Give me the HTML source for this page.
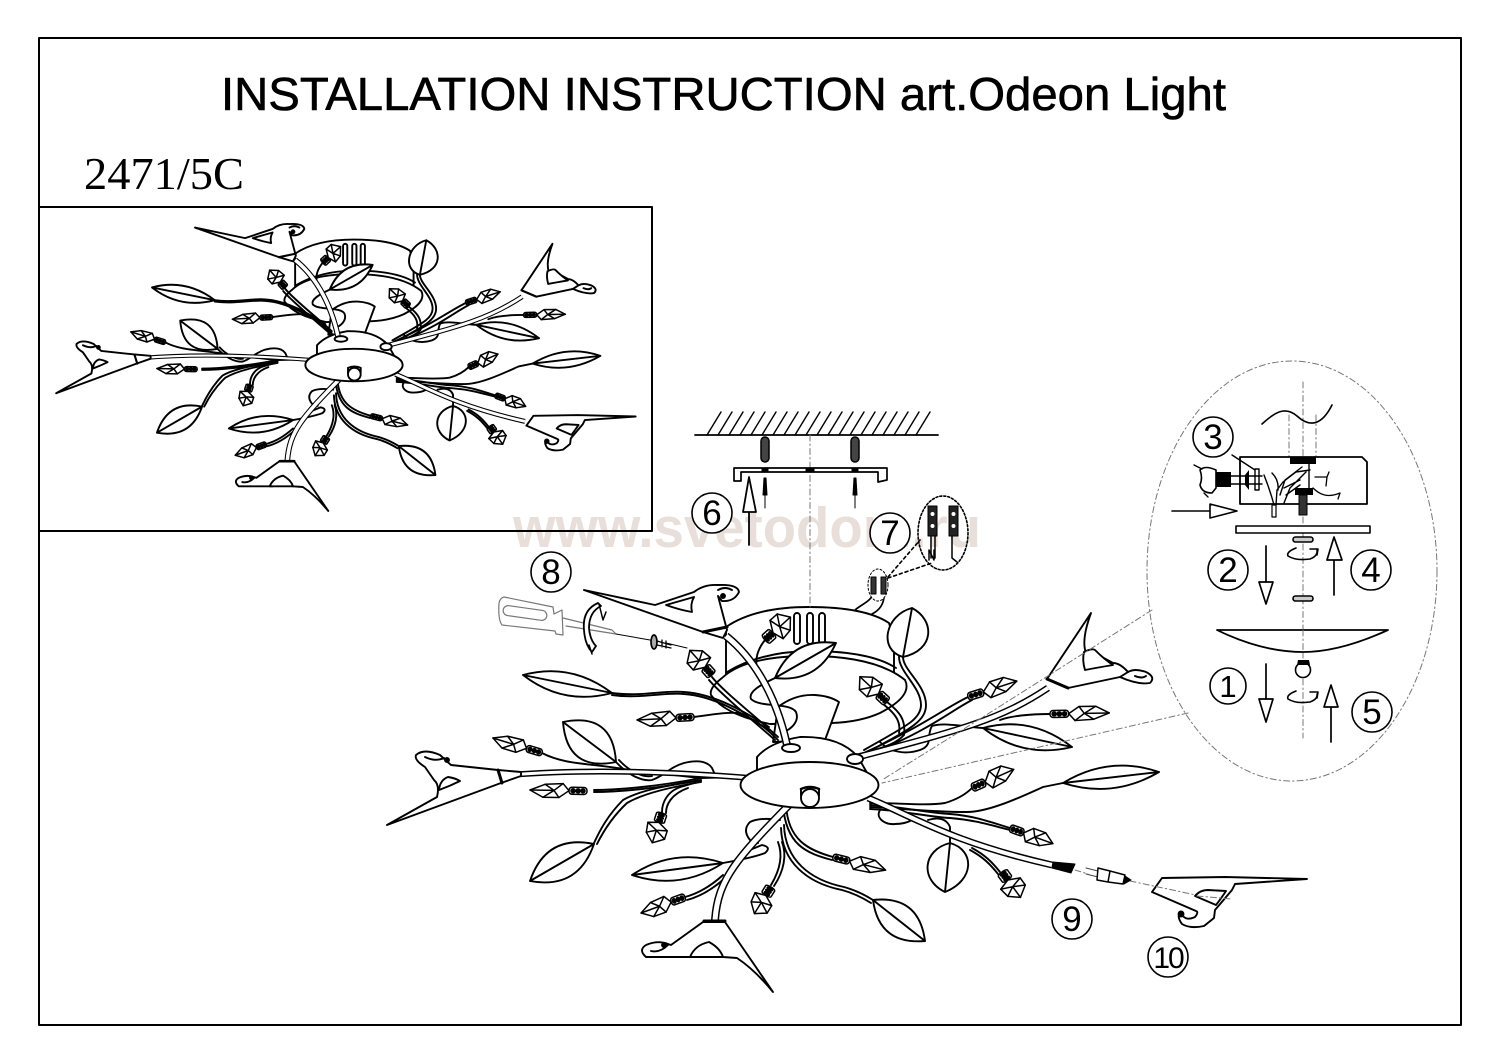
<!DOCTYPE html>
<html><head><meta charset="utf-8"><style>
html,body{margin:0;padding:0;background:#fff}
svg{display:block}
.t{font-family:"Liberation Sans",sans-serif}
.n{font-family:"Liberation Sans",sans-serif;font-size:35px;text-anchor:middle;fill:#000;stroke:none}
.nz{vector-effect:non-scaling-stroke}
.dd{fill:none;stroke:#777;stroke-width:1;stroke-dasharray:6 3 1.5 3}
.g{fill:none;stroke:#555;stroke-width:1.2}
</style></head><body>
<svg width="1500" height="1061" viewBox="0 0 1500 1061" xmlns="http://www.w3.org/2000/svg" fill="none" stroke="#000" stroke-linejoin="round" stroke-linecap="round">
<defs>
<g id="c" stroke-width="1.5">
  <rect class="nz" x="0" y="-3.500" width="18" height="7" rx="3" fill="#fff"/>
  <path class="nz" fill="#fff" d="M18,0 L28,-7 L44,-7 L57,0 L42,6 L24,7 Z"/>
  <path class="nz" d="M33,0 L28,-7 M33,0 L44,-7 M33,0 L42,6 M33,0 L24,7 M33,0 L57,0"/>
  <circle class="nz" cx="4" cy="0" r="2" fill="#000"/><circle class="nz" cx="9" cy="0" r="2" fill="#000"/><circle class="nz" cx="14" cy="0" r="2" fill="#000"/>
</g>
<g id="shade10" fill="#fff">
  <path d="M1152,892 L1162,878 L1225,877 L1307,879 L1235,884 L1232,890 L1215,910 L1214,918 L1204,926 Q1190,929 1182,924 Q1176,916 1181,912 Q1184,922 1195,917 Q1199,912 1196,911 L1152,892 Z"/>
  <path d="M1195,896 Q1200,890 1208,890 L1226,891 Q1220,900 1216,905 Z"/>
  <circle cx="1181" cy="914" r="2.5" fill="#000"/>
</g>
<g id="ch">
  <!-- drum -->
  <path fill="#fff" d="M726,676 V627 Q755,607 809,607 Q865,607 889,623 L894,640 V676 Z"/>
  <path fill="#fff" d="M722,678 Q745,656 809,656 Q875,656 905,680 Q913,696 880,713 Q860,722 832,723 L770,724 Q725,715 711,695 Q709,688 722,678 Z"/>
  <path d="M727,672 Q760,652 809,651 Q870,651 896,668"/>
  <rect x="794" y="613" width="6" height="31" rx="3" fill="#fff"/><rect x="807" y="613" width="6" height="31" rx="3" fill="#fff"/><rect x="819" y="613" width="6" height="31" rx="3" fill="#fff"/>
  <!-- canopy -->
  <path fill="#fff" d="M773,742 L778,707 Q795,694 815,695 Q830,696 839,702 L825,740 Z"/>
  <path fill="#fff" d="M757,782 V757 Q770,742 800,737 Q840,736 858,757 L870,778 Z"/>
  <!-- wires behind -->
  <path d="M612,693 C640,697 665,690 684,692 C715,694 745,712 769,727"/>
  <path d="M612,695 C640,699 665,692 684,694 C715,696 745,715 769,730"/>
  <path d="M712,677 C722,690 755,716 778,737"/><path d="M709,680 C720,693 752,720 775,740"/>
  <path d="M694,717 C710,715 725,712 737,713 C750,716 765,727 778,740"/>
  <path d="M775,678 C760,685 748,692 751,699 C760,708 790,702 796,712 C800,722 790,730 783,732"/>
  <path d="M765,640 C757,650 755,660 757,668"/>
  <path d="M903,657 C903,670 926,685 926,705 C926,722 908,730 866,753" />
  <path d="M899,657 C899,672 921,687 921,705 C921,720 904,727 864,750"/>
  <path d="M887,702 C900,712 906,720 904,735 C895,745 880,748 866,753"/>
  <path d="M883,704 C896,714 901,722 899,733"/>
  <path d="M968,697 C945,708 925,725 866,752"/><path d="M972,700 C949,712 930,730 868,755"/>
  <path d="M1050,714 C1030,714 1010,716 1000,720"/>
  <path d="M983,728 C965,727 945,722 932,726 C926,735 934,745 920,750 C905,755 890,752 880,742"/>
  <!-- arm upper right stem -->
  <path stroke-width="7" stroke-linecap="butt" d="M1048,688 C1000,720 960,730 858,757"/><path stroke="#fff" stroke-width="4" stroke-linecap="butt" d="M1048,688 C1000,720 960,730 858,757"/>
  <!-- shade upper right -->
  <path fill="#fff" d="M1091,613 L1047,679 L1068,688 L1120,677 Q1138,685 1150,683 Q1156,677 1146,672 Q1135,668 1128,672 Q1120,663 1113,663 L1100,656 L1086,653 Q1081,640 1091,613 Z"/>
  <path fill="#fff" d="M1084,652 Q1092,648 1095,650 Q1105,660 1113,665 Q1095,668 1085,670 Q1082,660 1084,652 Z"/>
  <path stroke-width="3" d="M1047,679 L1068,688"/>
  <path d="M1135,676 Q1142,679 1146,676 M1120,677 L1128,672"/>
  <!-- leaf stem and shade upper-left -->
  <path stroke-width="8" stroke-linecap="butt" d="M726,636 C750,655 775,690 787,745"/><path stroke="#fff" stroke-width="5" stroke-linecap="butt" d="M726,636 C750,655 775,690 787,745"/>
  <path fill="#fff" d="M584,590 L655,605 Q670,600 694,592 Q704,584 718,585 Q738,584 739,592 Q734,602 722,601 L718,596 L727,630 L723,638 L703,632 Z"/>
  <path fill="#fff" d="M666,605 Q680,601 694,597 Q690,604 692,612 Q680,610 666,605 Z"/>
  <path stroke-width="3" d="M703,632 L727,627"/>
  <circle cx="723" cy="596" r="2" fill="#000"/>
  <path d="M718,590 Q725,586 732,590"/>
  <!-- left wires -->
  <path d="M542,753 C565,765 590,763 630,770 L700,778"/>
  <path d="M594,790 C620,790 660,786 701,778 L737,777"/>
  <path d="M594,792 C620,792 660,788 701,780"/>
  <path d="M594,843 C600,830 608,815 623,800 C640,790 670,785 701,780"/>
  <path d="M597,844 C603,832 612,817 627,803 C644,793 672,787 701,782"/>
  <path d="M662,812 C662,803 667,790 684,786 L701,781"/>
  <path d="M666,813 C666,805 671,794 688,788"/>
  <path d="M616,762 C625,772 640,782 652,780 C664,776 670,767 684,763 Q705,758 712,768 L716,777"/>
  <path d="M619,760 C628,770 642,778 652,776"/>
  <path stroke-width="6" stroke-linecap="butt" d="M510,775 C570,770 650,770 750,778"/><path stroke="#fff" stroke-width="3" stroke-linecap="butt" d="M510,775 C570,770 650,770 750,778"/>
  <!-- left shade -->
  <path fill="#fff" d="M387,825 L437,797 Q440,785 434,780 L425,767 Q414,760 416,755 Q424,748 440,755 L451,765 L498,770 L521,772 L521,776 L501,783 Z"/>
  <path fill="#fff" d="M439,790 Q450,786 460,781 Q455,778 448,777 Q440,780 439,790 Z"/>
  <path stroke-width="3" d="M498,770 L502,783"/>
  <path d="M425,757 Q435,762 444,758"/>
  <circle cx="447" cy="760" r="2" fill="#000"/>
  <!-- lower right wires -->
  <path d="M870,803 C900,803 925,806 945,803 C955,800 965,795 972,788"/>
  <path d="M870,807 C900,808 925,812 967,812 C990,812 1025,795 1043,787 L1063,783"/>
  <path d="M870,805 C900,806 925,813 950,814 C975,816 990,822 1010,828"/>
  <path d="M870,809 C900,810 928,817 950,818 C975,820 990,825 1010,830"/>
  <path d="M880,810 C875,818 885,825 895,824 Q905,824 912,820"/>
  <path d="M928,820 Q945,815 950,827 L950,843"/>
  <path d="M972,848 C985,855 992,862 1000,872"/><path d="M970,850 C983,857 990,864 998,874"/>
  <path stroke-width="7" stroke-linecap="butt" d="M868,798 C910,815 950,842 1052,865"/><path stroke="#fff" stroke-width="4" stroke-linecap="butt" d="M868,798 C910,815 950,842 1052,865"/>
  <!-- bottom wires -->
  <path d="M723,863 C740,860 755,857 765,853 Q772,847 762,845 L745,852"/>
  <path d="M780,820 Q760,817 750,822 Q742,830 750,840 L758,843"/>
  <path d="M685,897 C700,893 712,885 723,875"/><path d="M687,900 C702,896 714,888 725,878"/>
  <path d="M771,885 C780,870 783,855 778,842"/><path d="M774,886 C784,871 787,855 782,842"/>
  <path d="M786,805 C788,840 808,850 833,857"/><path d="M783,805 C786,845 806,853 832,860"/>
  <path d="M784,825 C785,860 810,880 844,887 C855,890 865,895 873,900"/><path d="M781,828 C782,862 807,883 842,890 C853,893 863,898 871,903"/>
  <path stroke-width="8" stroke-linecap="butt" d="M715,920 C718,880 735,860 791,803"/><path stroke="#fff" stroke-width="5" stroke-linecap="butt" d="M715,920 C718,880 735,860 791,803"/>
  <!-- bottom shade -->
  <path fill="#fff" d="M703,922 L725,922 L773,992 Q755,970 737,958 L723,957 L709,943 L694,957 L683,957 L646,957 Q638,950 646,945 Q658,940 668,944 L671,945 Z"/>
  <path fill="#fff" d="M690,957 Q695,945 709,942 Q720,948 723,957 Z"/>
  <path d="M651,951 Q660,953 668,945"/><circle cx="664" cy="945" r="2" fill="#000"/><path stroke-width="3" d="M704,921 L725,921"/>
  <!-- leaves -->
  <g fill="#fff">
    <path d="M612,693 Q571,662 523,675 Q563,706 612,693 Z M612,693 L523,675"/>
    <path d="M616,762 Q613,712 563,722 Q567,772 616,762 Z M616,762 L563,722"/>
    <path d="M594,844 Q578,890 530,881 Q546,834 594,844 Z M594,844 L530,881"/>
    <path d="M723,863 Q680,891 632,875 Q674,847 723,863 Z M723,863 L632,875"/>
    <path d="M873,900 Q919,895 925,941 Q879,945 873,900 Z M873,900 L925,941"/>
    <path d="M775,678 Q818,683 836,643 Q792,637 775,678 Z M775,678 L836,643"/>
    <path d="M903,657 C935,650 935,620 912,608 C885,615 878,650 903,657 Z M903,657 L912,608"/>
    <path d="M983,728 Q1031,715 1072,747 Q1023,759 983,728 Z M983,728 L1072,747"/>
    <path d="M1063,783 Q1113,799 1159,772 Q1109,755 1063,783 Z M1063,783 L1159,772"/>
    <path d="M950,843 C975,850 975,880 945,892 C920,880 922,850 950,843 Z M950,843 L945,892"/>
  </g>
  <!-- crystals -->
  <use href="#c" transform="translate(765,640) rotate(-42) scale(.6,1.6)"/>
  <use href="#c" transform="translate(712,675) rotate(228) scale(.58,1.5)"/>
  <use href="#c" transform="translate(887,702) rotate(223) scale(.65,1.4)"/>
  <use href="#c" transform="translate(694,717) rotate(177)"/>
  <use href="#c" transform="translate(542,753) rotate(197) scale(.9,1)"/>
  <use href="#c" transform="translate(587,791) rotate(181)"/>
  <use href="#c" transform="translate(662,813) rotate(108) scale(.55,1.5)"/>
  <use href="#c" transform="translate(685,897) rotate(160) scale(.82,1.1)"/>
  <use href="#c" transform="translate(771,887) rotate(122) scale(.55,1.5)"/>
  <use href="#c" transform="translate(833,857) rotate(14) scale(.95,1)"/>
  <use href="#c" transform="translate(968,697) rotate(-18) scale(.9,1.1)"/>
  <use href="#c" transform="translate(1050,714) rotate(-1) scale(1.04,1)"/>
  <use href="#c" transform="translate(972,788) rotate(-24) scale(.8,1.2)"/>
  <use href="#c" transform="translate(1010,828) rotate(20) scale(.8,1.1)"/>
  <use href="#c" transform="translate(1002,872) rotate(54) scale(.55,1.6)"/>
  <!-- base -->
  <ellipse cx="855" cy="759" rx="8" ry="5" fill="#fff"/>
  <ellipse cx="791" cy="748" rx="9" ry="4" fill="#fff"/>
  <ellipse cx="809.5" cy="785" rx="69" ry="23" fill="#fff"/>
  <circle cx="810" cy="798" r="9" fill="#fff"/>
  <path stroke-width="2.5" d="M801,789 Q810,785 819,789"/>
  <path d="M801,789 V796 M819,789 V796"/>
</g>
</defs>

<rect width="1500" height="1061" fill="#fff" stroke="none"/>
<text x="513" y="547" class="t" font-size="57" font-weight="700" fill="#e9dfda" stroke="none" textLength="468" lengthAdjust="spacingAndGlyphs">www.svetodom.ru</text>
<rect x="39" y="38" width="1422" height="987" stroke-width="2"/>
<rect x="39" y="207" width="613" height="324" stroke-width="2"/>
<text x="221" y="110" class="t" font-size="46" fill="#000" stroke="#000" stroke-width=".6" textLength="1005" lengthAdjust="spacingAndGlyphs">INSTALLATION INSTRUCTION art.Odeon Light</text>
<text x="84" y="189" font-family="'Liberation Serif',serif" font-size="46" fill="#000" stroke="none" textLength="160" lengthAdjust="spacingAndGlyphs">2471/5C</text>

<!-- thumbnail -->
<g stroke-width="2.7" transform="translate(-216.7,-188.4) scale(.705)">
  <use href="#ch"/>
  <use href="#shade10" transform="translate(-98,-21)"/>
</g>

<!-- main -->
<g stroke-width="1.9"><use href="#ch"/><use href="#shade10"/></g>

<!-- ceiling -->
<path stroke-width="1.8" d="M695,435 H938"/>
<path stroke-width="1.4" d="M707,435l14,-23M718,435l14,-23M729,435l14,-23M740,435l14,-23M751,435l14,-23M762,435l14,-23M773,435l14,-23M784,435l14,-23M795,435l14,-23M806,435l14,-23M817,435l14,-23M828,435l14,-23M839,435l14,-23M850,435l14,-23M861,435l14,-23M872,435l14,-23M883,435l14,-23M894,435l14,-23M905,435l14,-23M916,435l14,-23"/>
<path class="dd" d="M810,435 V607"/>
<g fill="#444" stroke-width="1.5">
  <rect x="761" y="437" width="8" height="25" rx="4"/><rect x="851" y="437" width="8" height="25" rx="4"/>
</g>
<path stroke-width="1.7" fill="#fff" d="M734,481 V468 H887 V480 L878,482 V472 H741 L741,481 Z"/>
<rect x="762" y="468" width="6" height="4" fill="#000"/><rect x="806" y="468" width="8" height="4" fill="#000"/><rect x="852" y="468" width="6" height="4" fill="#000"/>
<path fill="#000" stroke-width="1" d="M764,478 H766 L767,495 H763 Z M854,478 H856 L857,495 H853 Z"/>
<path stroke-width="1" d="M765,495 V508 M855,495 V508"/>
<path stroke-width="1.8" d="M749,545 V512"/><path stroke-width="1.8" fill="#fff" d="M749,477 L743,512 H756 Z"/>

<!-- screwdriver -->
<g class="g" stroke="#666">
  <path stroke="#777" d="M504,597 L553,607 L554,614 L562,610 L563,635 L556,634 L555,631 L502,625 Q498,620 499,603 Q500,598 504,597 Z"/>
  <rect x="503" y="608" width="44" height="10" rx="5" stroke="#777" transform="rotate(8,525,613)"/>
  <path stroke="#777" d="M563,618 L612,630 L616,634 L566,626"/>
</g>
<path stroke-width="1" d="M616,634 L650,640 M666,643 L687,648"/>
<path stroke-width="1.8" fill="#fff" d="M598,603 Q582,610 584,630 Q585,645 592,652 L596,646 Q590,640 589,628 Q589,612 601,606 Z"/>
<path stroke-width="1.5" d="M599,604 L603,620 L606,612 M592,654 L589,645"/>
<ellipse cx="654" cy="642" rx="3" ry="7" stroke-width="1.7" fill="#aaa"/>
<path stroke-width="1.3" d="M657,641 L671,645 M657,645 L671,648 M662,640v7 M666,641v7"/>

<!-- terminals at 7 -->
<path stroke-width="1.7" d="M855,610 C862,604 870,602 874,593 M872,614 C880,610 884,604 884,595"/>
<ellipse cx="878" cy="585" rx="10" ry="16" stroke-dasharray="2 2" fill="#fff"/>
<rect x="871" y="577" width="5" height="17" fill="#333" stroke-width="1"/><rect x="881" y="577" width="5" height="17" fill="#333" stroke-width="1"/>
<ellipse cx="943" cy="533" rx="25" ry="37" stroke-width="1.6" stroke-dasharray="2 2"/>
<path stroke-width="1.6" stroke-dasharray="3 3" d="M888,577 L920,540 M888,578 L932,563"/>
<rect x="928" y="506" width="9" height="30" fill="#222" stroke-width="1"/><rect x="949" y="506" width="9" height="30" fill="#222" stroke-width="1"/>
<circle cx="932.500" cy="514" r="2" fill="#fff" stroke="none"/><circle cx="932.500" cy="526" r="2" fill="#fff" stroke="none"/><circle cx="953.500" cy="514" r="2" fill="#fff" stroke="none"/><circle cx="953.500" cy="526" r="2" fill="#fff" stroke="none"/>
<path stroke-width="1.5" d="M931,536 V558 M935,536 V558 M952,536 V558 M952,558 L957,562"/>
<path stroke-width="1.5" d="M929,560 V550 L934,560 V550"/>

<!-- connector 9 -->
<path fill="#000" stroke-width="1" d="M1053,862 L1075,864 L1071,873 L1052,868 Z"/>
<path class="dd" d="M1075,870 L1088,874 M1130,881 L1196,895 M1197,896 L1232,899"/>
<path stroke-width="1" stroke="#444" d="M1086,868 L1098,871 M1086,874 L1098,877"/>
<path stroke-width="1.5" fill="#fff" d="M1098,868 L1110,871 L1108,882 L1097,880 Z M1110,871 L1125,875 L1123,884 L1108,882"/>
<path fill="#000" stroke-width="1" d="M1125,876 L1131,880 L1124,884 Z"/>

<!-- detail ellipse -->
<ellipse cx="1292" cy="571" rx="145" ry="210" class="dd"/>
<path class="dd" d="M1152,610 L983,717 L882,780 M1188,713 L1070,740 L882,783"/>
<path class="dd" d="M1303,382 V738"/>
<path stroke-width="1.6" d="M1262,424 C1275,412 1285,406 1297,416 C1310,428 1322,425 1332,405"/>
<path class="dd" d="M1289,415 V457 M1316,415 V457"/>
<path stroke-width="1.8" fill="#fff" d="M1240,457 H1362 L1367,462 V504 H1240 Z"/>
<path fill="#000" stroke="none" d="M1290,457 H1316 V464 H1290 Z M1295,488 H1313 V495 H1295 Z"/>
<path stroke-width="1.4" d="M1309,464 V488 M1310,470 L1296,472 L1283,482 L1277,490 L1276,505 M1302,467 L1285,480 L1280,495 M1306,472 L1290,488 L1284,503 M1300,480 L1284,488 M1300,485 L1286,495 M1272,473 Q1279,480 1278,490 M1264,475 Q1270,490 1274,505"/>
<path stroke-width="1.3" d="M1315,477 H1327 L1329,472 M1327,477 L1326,486 M1313,488 C1320,495 1328,498 1340,493 M1340,493 L1338,499"/>
<rect x="1272" y="505" width="4" height="12" stroke-width="1.2" fill="#fff"/>
<rect x="1299" y="495" width="8" height="20" fill="#333" stroke-width="1"/>
<rect x="1255" y="469" width="4" height="21" stroke-width="1.4" fill="#fff"/>
<path stroke-width="1.4" d="M1232,455 L1255,470 M1231,476 H1262 M1231,484 H1262"/>
<path fill="#000" stroke="none" d="M1216,472 H1231 V487 H1216 Z M1245,475 L1249,470 V490 L1245,485 Z"/>
<path stroke-width="1.6" fill="#fff" d="M1216,470 Q1205,465 1200,470 Q1203,478 1200,485 Q1202,493 1212,493 L1216,488 Z"/>
<path stroke-width="1.4" d="M1194,465 L1202,469 M1204,493 L1208,497"/>
<path stroke-width="1.6" d="M1172,511 H1210"/><path stroke-width="1.6" fill="#fff" d="M1210,504 L1237,511 L1210,518 Z"/>
<rect x="1236" y="526" width="134" height="7" stroke-width="1.6" fill="#fff"/>
<rect x="1293" y="537" width="20" height="5" rx="2.500" stroke-width="1.6" fill="#ccc"/>
<rect x="1293" y="596" width="20" height="5" rx="2.500" stroke-width="1.6" fill="#ccc"/>
<path stroke-width="1.6" d="M1296,548 Q1286,552 1288,556 Q1296,561 1310,559 Q1318,556 1317,550 M1310,549 L1318,549 L1317,555"/>
<path stroke-width="1.6" d="M1296,691 Q1286,695 1288,699 Q1296,704 1310,702 Q1318,699 1317,694 M1310,692 L1318,692 L1317,698"/>
<path stroke-width="1.7" d="M1266,546 V582 M1334,595 V560 M1266,664 V699 M1331,742 V707"/>
<path stroke-width="1.7" fill="#fff" d="M1259,582 H1273 L1266,604 Z M1327,560 H1342 L1334,537 Z M1259,699 H1273 L1266,722 Z M1324,707 H1338 L1331,685 Z"/>
<path stroke-width="1.8" fill="#fff" d="M1217,630 H1388 Q1340,652 1303,652 Q1262,652 1217,630 Z"/>
<path class="dd" d="M1303,630 V652"/>
<circle cx="1303" cy="670" r="7.500" stroke-width="1.6" fill="#fff"/>
<path fill="#000" stroke="none" d="M1298,660 H1309 L1310,665 H1297 Z"/>

<!-- numbered circles -->
<g stroke-width="1.6" fill="#fff">
  <circle cx="712" cy="513" r="20"/><circle cx="890" cy="533" r="20"/><circle cx="551" cy="572" r="20"/>
  <circle cx="1072" cy="919" r="20"/><circle cx="1168" cy="957" r="20"/><circle cx="1213" cy="437" r="20"/>
  <circle cx="1228" cy="570" r="20"/><circle cx="1371" cy="570" r="20"/><circle cx="1228" cy="686" r="18"/><circle cx="1372" cy="712" r="20"/>
</g>
<g>
<text class="n" x="712" y="525">6</text><text class="n" x="890" y="545">7</text><text class="n" x="551" y="584">8</text>
<text class="n" x="1072" y="931">9</text><text class="n" x="1168" y="968" style="font-size:30px;letter-spacing:-2px">10</text><text class="n" x="1213" y="449">3</text>
<text class="n" x="1228" y="582">2</text><text class="n" x="1371" y="582">4</text><text class="n" x="1228" y="697" style="font-size:31px">1</text><text class="n" x="1372" y="724">5</text>
</g>
</svg>
</body></html>
